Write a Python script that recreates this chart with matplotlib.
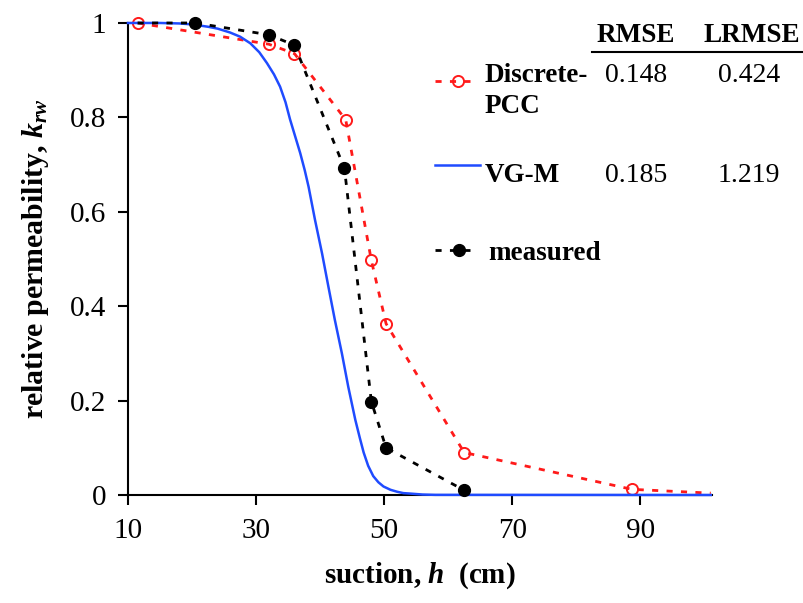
import matplotlib
matplotlib.use("Agg")
import matplotlib.pyplot as plt
from matplotlib.lines import Line2D

plt.rcParams["font.family"] = ["Liberation Serif", "DejaVu Serif"]
plt.rcParams["mathtext.fontset"] = "custom"
plt.rcParams["mathtext.it"] = "Liberation Serif:italic:bold"
plt.rcParams["mathtext.rm"] = "Liberation Serif:bold"

# suction h (cm) and relative permeability k_rw
h_pcc = [11.5, 32.0, 36.0, 44.0, 48.0, 50.3, 62.5, 88.7, 101.0]
k_pcc = [1.0, 0.955, 0.935, 0.795, 0.497, 0.363, 0.090, 0.012, 0.004]

h_meas = [11.5, 20.5, 32.0, 36.0, 43.8, 48.0, 50.3, 62.5]
k_meas = [1.0, 1.0, 0.975, 0.953, 0.692, 0.198, 0.100, 0.010]

h_vgm = [10.0, 15.0, 18.0, 20.0, 22.5, 24.0, 25.9, 27.5, 29.1, 30.5, 31.7, 32.8, 33.75,
         34.6, 35.3, 36.1, 36.9, 37.6, 38.2, 39.2, 40.3, 41.3, 42.3, 43.4, 44.4, 45.5,
         46.2, 46.8, 47.5, 48.3, 49.1, 49.9, 51.0, 52.0, 53.0, 54.1, 56.0, 58.0, 101.0]
k_vgm = [1.0, 1.0, 0.999, 0.997, 0.992, 0.988, 0.980, 0.971, 0.957, 0.938, 0.915, 0.891, 0.865,
         0.832, 0.796, 0.760, 0.724, 0.688, 0.653, 0.583, 0.512, 0.441, 0.371, 0.300, 0.229, 0.159,
         0.121, 0.090, 0.062, 0.040, 0.027, 0.018, 0.011, 0.007, 0.004, 0.003, 0.001, 0.0003, 0.0]

x_ticks = [10, 30, 50, 70, 90]
y_ticks = [0, 0.2, 0.4, 0.6, 0.8, 1.0]
y_labels = ["0", "0.2", "0.4", "0.6", "0.8", "1"]

series_names = ["Discrete-\nPCC", "VG-M", "measured"]
rmse = ["0.148", "0.185"]
lrmse = ["0.424", "1.219"]

RED = "#ff1a1a"
BLUE = "#1f4bff"

fig = plt.figure(figsize=(8.04, 6.03), dpi=100)
ax = fig.add_axes([0.1592, 0.1791, 0.7264, 0.7828])

ax.plot(h_pcc, k_pcc, color=RED, lw=2.0, ls=(0, (2.2, 3.0)), marker="o", ms=8,
        mfc="none", mec=RED, mew=1.4, markevery=slice(0, 8), clip_on=False, zorder=3)
ax.plot(h_meas, k_meas, color="black", lw=2.0, ls=(0, (2.2, 3.0)), marker="o", ms=8.5,
        mfc="black", mec="black", markevery=slice(1, None), clip_on=False, zorder=4)
ax.plot(h_vgm, k_vgm, color=BLUE, lw=1.8, clip_on=False, zorder=3.5, solid_joinstyle="round")

ax.set_xlim(10, 101.2)
ax.set_ylim(0, 1)
ax.set_xticks(x_ticks)
ax.set_yticks(y_ticks)
ax.set_yticklabels(y_labels)
for s in ["top", "right"]:
    ax.spines[s].set_visible(False)
for s in ["left", "bottom"]:
    ax.spines[s].set_linewidth(1.5)
ax.tick_params(axis="both", direction="out", length=7.5, width=1.5, labelsize=21)
ax.tick_params(axis="x", pad=9)
ax.tick_params(axis="y", pad=8)
ax.set_xlabel(r"suction, $h$  (cm)", fontsize=21, fontweight="bold", labelpad=12)
ax.set_ylabel(r"relative permeability, $k_{rw}$", fontsize=21.5, fontweight="bold", labelpad=14)

# legend keys + error table (figure coordinates)
fig.add_artist(Line2D([0.541, 0.588], [0.866, 0.866], color=RED, lw=2.0, ls=(0, (2.2, 3.0))))
fig.add_artist(Line2D([0.570], [0.866], marker="o", ms=8, mfc="none", mec=RED, mew=1.4, ls="none"))
fig.add_artist(Line2D([0.541, 0.597], [0.726, 0.726], color=BLUE, lw=1.8))
fig.add_artist(Line2D([0.541, 0.588], [0.585, 0.585], color="black", lw=2.0, ls=(0, (2.2, 3.0))))
fig.add_artist(Line2D([0.571], [0.585], marker="o", ms=8.5, mfc="black", mec="black", ls="none"))

fig.text(0.791, 0.930, "RMSE", ha="center", va="baseline", fontsize=19.5, fontweight="bold")
fig.text(0.935, 0.930, "LRMSE", ha="center", va="baseline", fontsize=19.5, fontweight="bold")
fig.add_artist(Line2D([0.736, 1.0], [0.914, 0.914], color="black", lw=1.5))

name_lines = series_names[0].split("\n")
fig.text(0.603, 0.864, name_lines[0], ha="left", va="baseline", fontsize=19.5, fontweight="bold")
fig.text(0.603, 0.813, name_lines[1], ha="left", va="baseline", fontsize=19.5, fontweight="bold")
fig.text(0.603, 0.698, series_names[1], ha="left", va="baseline", fontsize=19.5, fontweight="bold")
fig.text(0.607, 0.569, series_names[2], ha="left", va="baseline", fontsize=19.5, fontweight="bold")

for yb, r, lr in zip([0.864, 0.698], rmse, lrmse):
    fig.text(0.791, yb, r, ha="center", va="baseline", fontsize=20)
    fig.text(0.932, yb, lr, ha="center", va="baseline", fontsize=20)

fig.savefig("out.png", dpi=100)
